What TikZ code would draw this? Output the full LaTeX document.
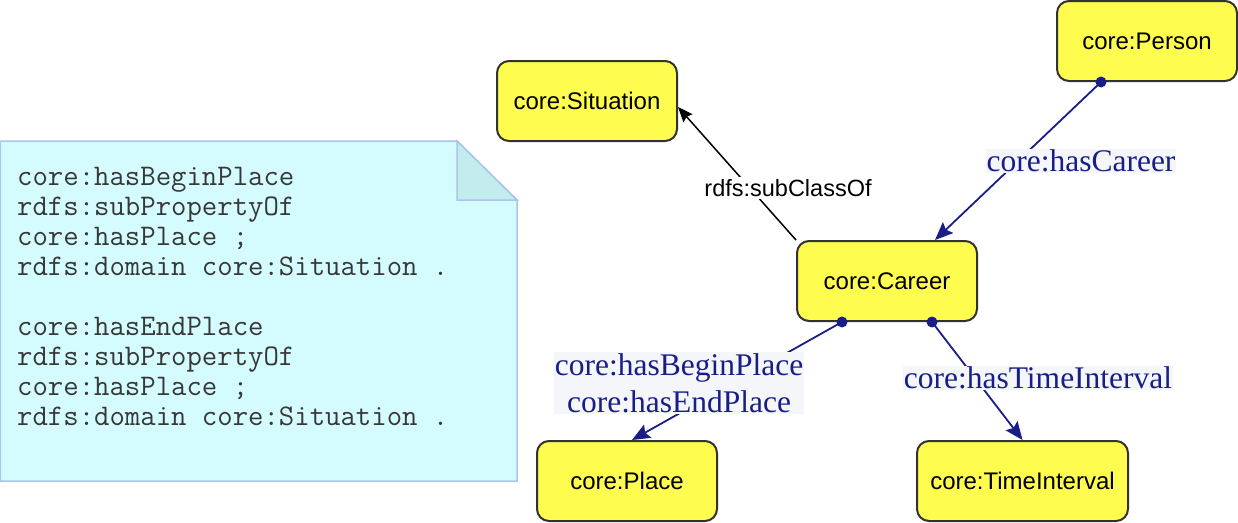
\documentclass[tikz,border=0pt]{standalone}
\usepackage{fontspec}
\setmainfont{Liberation Serif}
\setsansfont{Liberation Sans}
\usetikzlibrary{arrows.meta,calc}
\definecolor{nodefill}{RGB}{255,252,80}
\definecolor{nodeborder}{RGB}{50,50,50}
\definecolor{navy}{RGB}{25,30,135}
\definecolor{notefill}{RGB}{212,252,255}
\definecolor{noteborder}{RGB}{170,196,235}
\definecolor{notefold}{RGB}{195,236,236}
\definecolor{notetext}{RGB}{55,55,55}
\definecolor{labelbg}{RGB}{244,246,250}
\begin{document}
\begin{tikzpicture}[x=1pt,y=-1pt,
  cls/.style={draw=nodeborder,line width=2pt,fill=nodefill,rounded corners=12pt,
    minimum width=180pt,minimum height=80pt,inner sep=0pt,
    font=\sffamily\fontsize{24}{28}\selectfont},
  rel/.style={draw=navy,line width=1.8pt,-{Stealth[length=18pt,width=15pt,inset=3pt]}},
  relstart/.style={fill=navy,circle,inner sep=0pt,minimum size=11pt},
  rellabel/.style={fill=labelbg,text=navy,inner sep=1pt,
    font=\fontsize{31.5}{37}\selectfont},
  sublabel/.style={fill=white,text=black,inner sep=2pt,
    font=\sffamily\fontsize{23.5}{27}\selectfont},
  subrel/.style={draw=black,line width=1.5pt,-{Stealth[length=15pt,width=12pt,inset=2pt]}},
  notebody/.style={fill=notefill,draw=noteborder,line width=1.5pt},
  notecorner/.style={fill=notefold,draw=noteborder,line width=1.5pt},
  notestyle/.style={anchor=base west,align=left,inner sep=0pt,text=notetext,
    font=\ttfamily\fontsize{29.9}{30}\selectfont}
]
\useasboundingbox (0,0) rectangle (1238,522);

% note
\draw[notebody] (0,141) -- (457,141) -- (517,200) -- (517,481) -- (0,481) -- cycle;
\draw[notecorner] (457,141) -- (457,200) -- (517,200) -- cycle;
\node[notestyle] (notetext) at (17,425) {core:hasBeginPlace\\rdfs:subPropertyOf\\core:hasPlace ;\\rdfs:domain core:Situation .\\[30pt]core:hasEndPlace\\rdfs:subPropertyOf\\core:hasPlace ;\\rdfs:domain core:Situation .};

% classes
\node[cls] (situation) at (587,101) {core:Situation};
\node[cls] (person) at (1147,41) {core:Person};
\node[cls] (career) at (887,281) {core:Career};
\node[cls] (place) at (627,481) {core:Place};
\node[cls,minimum width=211pt] (time) at (1022.5,481) {core:TimeInterval};

% subclass edge
\draw[subrel] (career.north west) -- ([yshift=-6pt]situation.east);
\node[sublabel] (lsub) at (788,188) {rdfs:subClassOf};

% property edges
\node[relstart] (pdot) at ([xshift=-46pt]person.south) {};
\node[relstart] (cdot1) at ([xshift=-45pt]career.south) {};
\node[relstart] (cdot2) at ([xshift=45pt]career.south) {};
\draw[rel] (pdot.center) -- ([xshift=48pt]career.north);
\draw[rel] (cdot1.center) -- ([xshift=5pt]place.north);
\draw[rel] (cdot2.center) -- (time.north);

\node[rellabel] (lcareer) at (1081,161) {core:hasCareer};
\node[rellabel,align=center] (lplace) at (679,383) {core:hasBeginPlace\\core:hasEndPlace};
\node[rellabel] (ltime) at (1038,378) {core:hasTimeInterval};
\end{tikzpicture}
\end{document}
